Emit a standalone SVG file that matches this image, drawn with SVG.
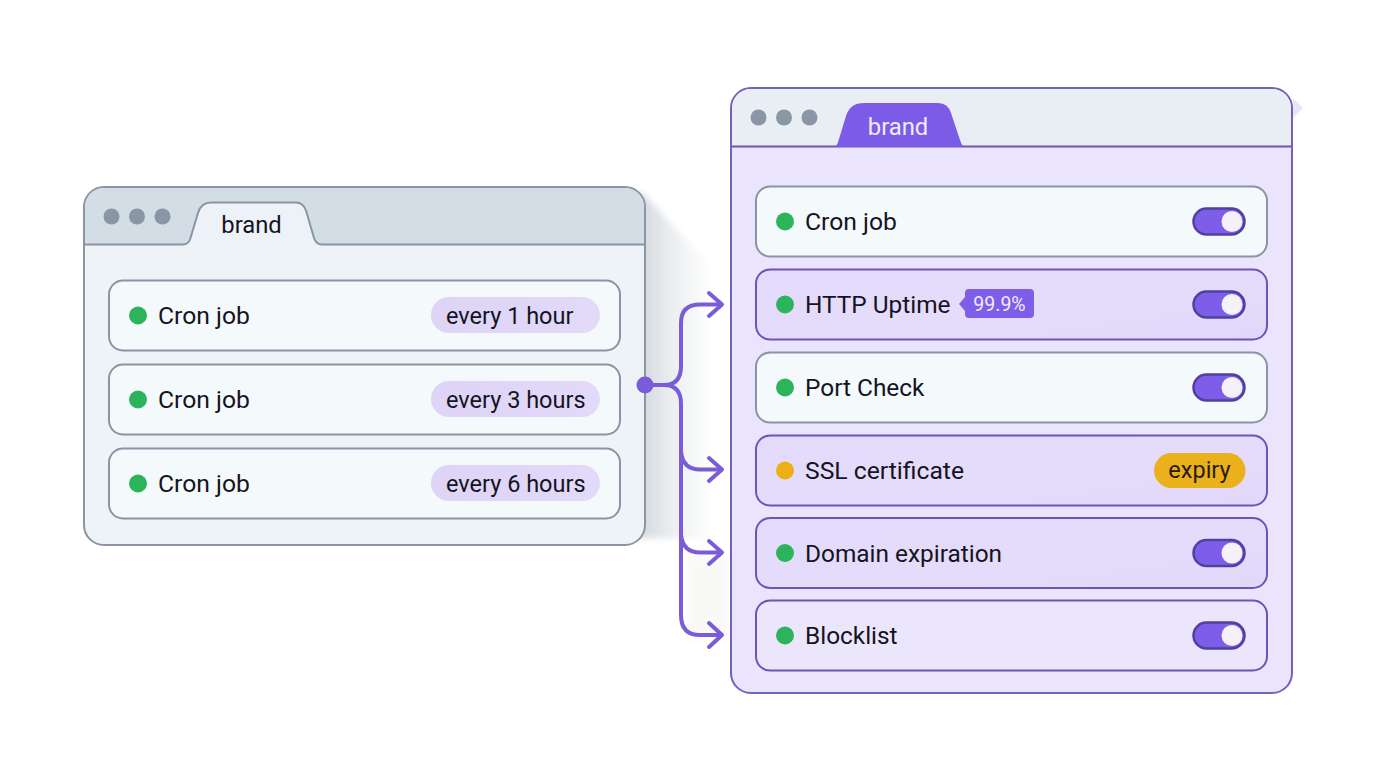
<svg xmlns="http://www.w3.org/2000/svg" width="1376" height="768" viewBox="0 0 1376 768">
<style>
text{font-family:Roboto,"Liberation Sans",sans-serif;fill:#14141f}
.lbl{font-size:24.400px}
.cron{font-size:24.700px}
.brand{font-size:23.800px}
.tag{font-size:23.500px}
.wd{fill:#8a95a5}
.row-w{fill:#f4f9fb;stroke:#8b94a3;stroke-width:2}
.row-p{fill:url(#rowp);stroke:#6d55b5;stroke-width:2}
.row-l{fill:#ece6fc;stroke:#6d55b5;stroke-width:2}
.pill{fill:url(#pill)}
.ok{fill:#2bb45a}
.warn{fill:#eeaf14}
.tg{fill:#7e5ee8;stroke:#50409f;stroke-width:2.500}
.kn{fill:#f4f1fb}
.conn{fill:none;stroke:#7a5bd8;stroke-width:4;stroke-linecap:round;stroke-linejoin:round}
</style>
<defs>
<linearGradient id="sh" x1="0" x2="1" y1="0" y2="0"><stop offset="0" stop-color="#d3d7dc"/><stop offset=".45" stop-color="#eceef0"/><stop offset="1" stop-color="#fff"/></linearGradient>
<linearGradient id="rowp" x1="0" x2="1" y1="0" y2="1"><stop offset="0" stop-color="#e4dafc"/><stop offset=".6" stop-color="#e5dcfb"/><stop offset="1" stop-color="#e1d7fa"/></linearGradient>
<linearGradient id="pill" x1="0" x2="1" y1="0" y2="0"><stop offset="0" stop-color="#ddd4f6"/><stop offset="1" stop-color="#e3d9f9"/></linearGradient>
<filter id="soft" x="-20%" y="-20%" width="140%" height="140%"><feGaussianBlur stdDeviation="3"/></filter>
<g id="tgl"><rect x="1193.500" y="-13" width="51" height="26" rx="13" class="tg"/><circle cx="1232" cy="0" r="10.500" class="kn"/></g>
</defs>
<path d="M640 190L712 268V538H640Z" fill="url(#sh)" filter="url(#soft)"/>
<rect x="686" y="556" width="42" height="84" fill="#f9f9f7" filter="url(#soft)"/>
<path d="M1293 98L1303 108L1293 118Z" fill="#e9e5f6"/>
<g id="left-window">
<rect x="84" y="187" width="561" height="358" rx="20" fill="#eef3f8" stroke="#8b94a3" stroke-width="2"/>
<path d="M85 244V207a19 19 0 0 1 19-19H625a19 19 0 0 1 19 19V244Z" fill="#d3dde6"/>
<path d="M85 244.500H183q5 0 7-5L198 213q3-10.500 13-10.500H296q7 0 10 8L314 238q2 6.500 8 6.500H644" fill="#edf2f8" stroke="#8b94a3" stroke-width="2"/>
<circle cx="111.500" cy="216.500" r="8" class="wd"/><circle cx="137" cy="216.500" r="8" class="wd"/><circle cx="162.500" cy="216.500" r="8" class="wd"/>
<text x="251.500" y="233" text-anchor="middle" class="brand">brand</text>
</g>
<g id="left-row-1"><rect x="109" y="280.500" width="511" height="70" rx="14" class="row-w"/><circle cx="138" cy="315.500" r="9" class="ok"/><text x="158" y="324" class="cron">Cron job</text><rect x="431" y="297" width="169" height="36" rx="18" class="pill"/><text x="446" y="323.500" class="tag">every 1 hour</text></g>
<g id="left-row-2"><rect x="109" y="364.500" width="511" height="70" rx="14" class="row-w"/><circle cx="138" cy="399.500" r="9" class="ok"/><text x="158" y="408" class="cron">Cron job</text><rect x="431" y="381" width="169" height="36" rx="18" class="pill"/><text x="446" y="407.500" class="tag">every 3 hours</text></g>
<g id="left-row-3"><rect x="109" y="448.500" width="511" height="70" rx="14" class="row-w"/><circle cx="138" cy="483.500" r="9" class="ok"/><text x="158" y="492" class="cron">Cron job</text><rect x="431" y="465" width="169" height="36" rx="18" class="pill"/><text x="446" y="491.500" class="tag">every 6 hours</text></g>
<g id="right-window">
<rect x="731" y="88" width="561" height="605" rx="20" fill="#ebe4fd" stroke="#7561b8" stroke-width="2"/>
<path d="M732 146V108a19 19 0 0 1 19-19H1272a19 19 0 0 1 19 19V146Z" fill="#e9eef4"/>
<path d="M732 146.500H1291" fill="none" stroke="#6d55b5" stroke-width="2"/>
<path d="M835 147Q838 144 839 139L846 116Q850 103 864 103H938Q948 103 951 113L960 140Q961 144 964 147Z" fill="#7c5ce6"/>
<circle cx="758.500" cy="117.500" r="8" class="wd"/><circle cx="784" cy="117.500" r="8" class="wd"/><circle cx="809.500" cy="117.500" r="8" class="wd"/>
<text x="898" y="135" text-anchor="middle" class="brand" style="fill:#f1ebff">brand</text>
</g>
<g id="right-row-1"><rect x="756" y="186.500" width="511" height="70" rx="14" class="row-w"/><circle cx="785" cy="221.500" r="9" class="ok"/><text x="805" y="230" class="cron">Cron job</text><use href="#tgl" y="221.500"/></g>
<g id="right-row-2"><rect x="756" y="269.500" width="511" height="70" rx="14" class="row-p"/><circle cx="785" cy="304.500" r="9" class="ok"/><text x="805" y="313" class="lbl">HTTP Uptime</text>
<path d="M959 304L965 297V293q0-4 4-4H1030q4 0 4 4V314q0 4-4 4H969q-4 0-4-4V311Z" fill="#7e5ee8"/><text x="999.500" y="311" text-anchor="middle" font-size="19.500" style="fill:#f1ebff">99.9%</text><use href="#tgl" y="304.500"/></g>
<g id="right-row-3"><rect x="756" y="352.500" width="511" height="70" rx="14" class="row-w"/><circle cx="785" cy="387.500" r="9" class="ok"/><text x="805" y="396" class="lbl">Port Check</text><use href="#tgl" y="387.500"/></g>
<g id="right-row-4"><rect x="756" y="435.500" width="511" height="70" rx="14" class="row-p"/><circle cx="785" cy="470.500" r="9" class="warn"/><text x="805" y="479" class="cron">SSL certificate</text><rect x="1154" y="453" width="91.500" height="35" rx="17.500" fill="#eab11c"/><text x="1199.500" y="478" text-anchor="middle" class="tag" style="fill:#2a1a10">expiry</text></g>
<g id="right-row-5"><rect x="756" y="518" width="511" height="70" rx="14" class="row-p"/><circle cx="785" cy="553" r="9" class="ok"/><text x="805" y="562" class="lbl">Domain expiration</text><use href="#tgl" y="553"/></g>
<g id="right-row-6"><rect x="756" y="600.500" width="511" height="70" rx="14" class="row-l"/><circle cx="785" cy="635.500" r="9" class="ok"/><text x="805" y="644" class="lbl">Blocklist</text><use href="#tgl" y="635.500"/></g>
<g id="connectors">
<path class="conn" d="M646 385H664Q681 385 681 366V323Q681 304.500 700 304.500H721"/>
<path class="conn" d="M664 385Q681 385 681 404V615Q681 635 700 635H721"/>
<path class="conn" d="M681 452Q683 469.500 700 469.500H721"/>
<path class="conn" d="M681 535Q683 552.500 700 552.500H721"/>
<path class="conn" d="M709 293L722 304.500L709 316"/>
<path class="conn" d="M709 458L722 469.500L709 481"/>
<path class="conn" d="M709 541L722 552.500L709 564"/>
<path class="conn" d="M709 623L722 635L709 647"/>
<circle cx="645" cy="385" r="8.500" fill="#7a5bd8"/>
</g>
</svg>
